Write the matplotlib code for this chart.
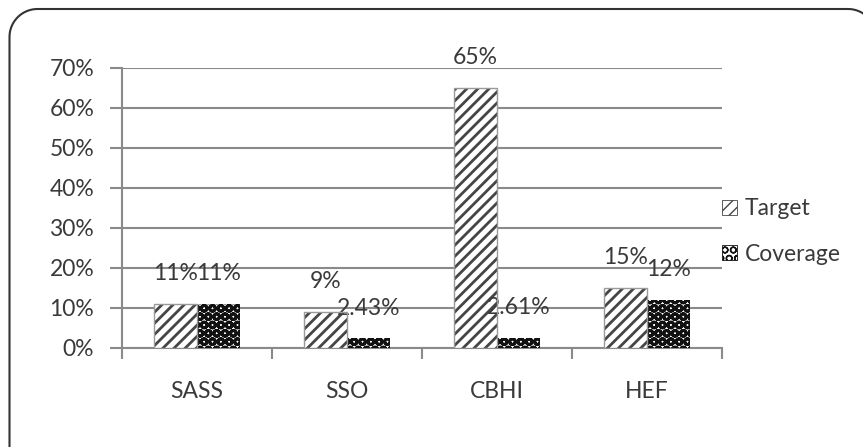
import matplotlib
matplotlib.use("Agg")
import matplotlib.pyplot as plt
from matplotlib.patches import Patch, PathPatch
from matplotlib.path import Path
from matplotlib.ticker import FuncFormatter
import numpy as np

categories = ["SASS", "SSO", "CBHI", "HEF"]
target = [11, 9, 65, 15]
coverage = [11, 2.43, 2.61, 12]
target_labels = ["11%", "9%", "65%", "15%"]
coverage_labels = ["11%", "2.43%", "2.61%", "12%"]
yticks = [0, 10, 20, 30, 40, 50, 60, 70]

plt.rcParams["font.family"] = ["Lato", "DejaVu Sans"]
text_color = "#3a3a3a"
grid_color = "#8a8a8a"
fs = 16.5

TARGET_STYLE = ("///", "#454545", 2.0)
COVER_STYLE = ("OO", "#111111", 2.1)

fig = plt.figure(figsize=(8.63, 4.47), dpi=100)
W, H = 863, 447
ax = fig.add_axes([122 / W, 1 - 348 / H, 600 / W, 280 / H])

x = np.arange(len(categories))
w = 1 / 3.5


def hatched_bars(xs, vals, style):
    hatch, color, lw = style
    with plt.rc_context({"hatch.linewidth": lw}):
        bars = ax.bar(xs, vals, w, color="white", edgecolor=color,
                      hatch=hatch, linewidth=0, zorder=3)
    for b in bars:
        if hasattr(b, "set_hatch_linewidth"):
            b.set_hatch_linewidth(lw)
    return bars


hatched_bars(x - w / 2, target, TARGET_STYLE)
ax.bar(x - w / 2, target, w, fill=False, edgecolor="#9a9a9a",
       linewidth=1.0, zorder=4)
hatched_bars(x + w / 2, coverage, COVER_STYLE)

for xi, v, lab in zip(x - w / 2, target, target_labels):
    ax.annotate(lab, (xi, v), xytext=(0, 17), textcoords="offset points",
                ha="center", va="baseline", fontsize=fs, color=text_color)
for xi, v, lab in zip(x + w / 2, coverage, coverage_labels):
    ax.annotate(lab, (xi, v), xytext=(0, 17), textcoords="offset points",
                ha="center", va="baseline", fontsize=fs, color=text_color)

ax.set_xlim(-0.5, len(categories) - 0.5)
ax.set_ylim(0, 70)
ax.set_yticks(yticks)
ax.yaxis.set_major_formatter(FuncFormatter(lambda v, p: f"{v:.0f}%"))
ax.yaxis.grid(True, color=grid_color, linewidth=1.5, zorder=0)
ax.set_axisbelow(True)

ax.set_xticks(np.arange(len(categories) + 1) - 0.5)
ax.set_xticklabels([])
ax.set_xticks(x, minor=True)
ax.set_xticklabels(categories, minor=True)
ax.tick_params(axis="x", which="major", length=8, width=1.5, color=grid_color,
               direction="out")
ax.tick_params(axis="x", which="minor", length=0, pad=24, labelsize=fs,
               labelcolor=text_color)
ax.tick_params(axis="y", length=9, width=1.5, color=grid_color, pad=11,
               labelsize=fs, labelcolor=text_color)

for side in ["top", "right"]:
    ax.spines[side].set_visible(False)
for side in ["left", "bottom"]:
    ax.spines[side].set_color(grid_color)
    ax.spines[side].set_linewidth(1.5)

handles = []
for hatch, color, lw in [TARGET_STYLE, COVER_STYLE]:
    p = Patch(facecolor="white", edgecolor=color, hatch=hatch, linewidth=0.6)
    if hasattr(p, "set_hatch_linewidth"):
        p.set_hatch_linewidth(lw)
    handles.append(p)
fig.legend(handles, ["Target", "Coverage"], loc="center left",
           bbox_to_anchor=(722 / W, 1 - 231.5 / H), frameon=False,
           fontsize=fs, labelcolor=text_color, handlelength=0.65,
           handleheight=0.65, handletextpad=0.35, labelspacing=1.05,
           borderpad=0, borderaxespad=0)

# rounded outer frame, in pixel units (origin at top-left)
r = 28
left, top, right, bottom = 9.5, 9.0, 876.0, 470.0
pts = []
pts += [(left, bottom), (left, top + r)]
th = np.linspace(np.pi, 1.5 * np.pi, 20)
pts += [(left + r + r * np.cos(t), top + r + r * np.sin(t)) for t in th]
pts += [(right - r, top)]
th = np.linspace(1.5 * np.pi, 2 * np.pi, 20)
pts += [(right - r + r * np.cos(t), top + r + r * np.sin(t)) for t in th]
pts += [(right, bottom)]
fig_pts = [(px / W, 1 - py / H) for px, py in pts]
frame = PathPatch(Path(fig_pts), transform=fig.transFigure, fill=False,
                  edgecolor="#333333", linewidth=1.5, clip_on=False)
fig.add_artist(frame)

fig.savefig("out.png", dpi=100)
